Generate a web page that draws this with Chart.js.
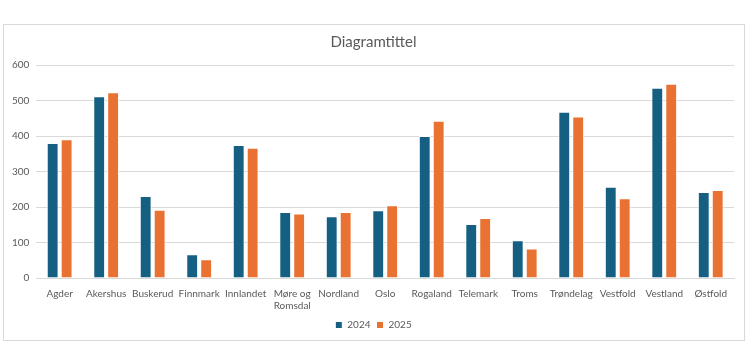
<!DOCTYPE html>
<html>
<head>
<meta charset="utf-8">
<script src="https://cdn.jsdelivr.net/npm/chart.js@4"></script>
<style>
  html, body { margin: 0; padding: 0; background: #fff; }
  #boks {
    position: absolute; left: 3px; top: 24px;
    width: 740px; height: 315px;
    border: 1px solid #d9d9d9; background: #fff;
  }
</style>
</head>
<body>
<div id="boks"><canvas id="chart" width="740" height="315"></canvas></div>
<script>
// Fylker og verdier
const fylker = ['Agder', 'Akershus', 'Buskerud', 'Finnmark', 'Innlandet', ['Møre og', 'Romsdal'], 'Nordland', 'Oslo',
  'Rogaland', 'Telemark', 'Troms', 'Trøndelag', 'Vestfold', 'Vestland', 'Østfold'];
const verdier2024 = [380, 512, 231, 67, 375, 186, 174, 191, 400, 152, 106, 468, 257, 536, 242];
const verdier2025 = [391, 523, 192, 53, 367, 182, 186, 205, 443, 169, 83, 455, 225, 547, 248];
const yTicks = [0, 100, 200, 300, 400, 500, 600];

const tekstFarge = '#595959';
const font = 'Lato';

const ctx = document.getElementById('chart').getContext('2d');
new Chart(ctx, {
  type: 'bar',
  data: {
    labels: fylker,
    datasets: [
      { label: '2024', data: verdier2024, backgroundColor: '#156082', borderColor: '#ffffff', borderWidth: 1 },
      { label: '2025', data: verdier2025, backgroundColor: '#E97132', borderColor: '#ffffff', borderWidth: 1 }
    ]
  },
  options: {
    responsive: false,
    animation: false,
    datasets: { bar: { categoryPercentage: 0.6, barPercentage: 0.85 } },
    layout: { padding: { left: 1, right: 2, top: 4, bottom: 0 } },
    plugins: {
      title: {
        display: true, text: 'Diagramtittel', color: tekstFarge,
        font: { family: font, size: 15, weight: 'normal' },
        padding: { top: 4, bottom: 14 }
      },
      legend: {
        position: 'bottom',
        labels: {
          color: tekstFarge, font: { family: font, size: 10 },
          boxWidth: 7, boxHeight: 7, padding: 6
        }
      },
      tooltip: { enabled: false }
    },
    scales: {
      x: {
        grid: { display: false },
        border: { color: '#d9d9d9' },
        ticks: { color: tekstFarge, font: { family: font, size: 10 }, maxRotation: 0, autoSkip: false, padding: 2 }
      },
      y: {
        min: 0, max: 600,
        afterBuildTicks: (ax) => { ax.ticks = yTicks.map(v => ({ value: v })); },
        grid: { color: '#d9d9d9', drawTicks: false },
        border: { display: false },
        ticks: { color: tekstFarge, font: { family: font, size: 10 }, padding: 7 }
      },
      // tom akse til høyre, bare for luft
      hoyre: {
        type: 'linear', position: 'right', display: true,
        grid: { display: false }, border: { display: false },
        ticks: { display: false },
        afterFit: (s) => { s.width = 8; }
      }
    }
  }
});
</script>
</body>
</html>
